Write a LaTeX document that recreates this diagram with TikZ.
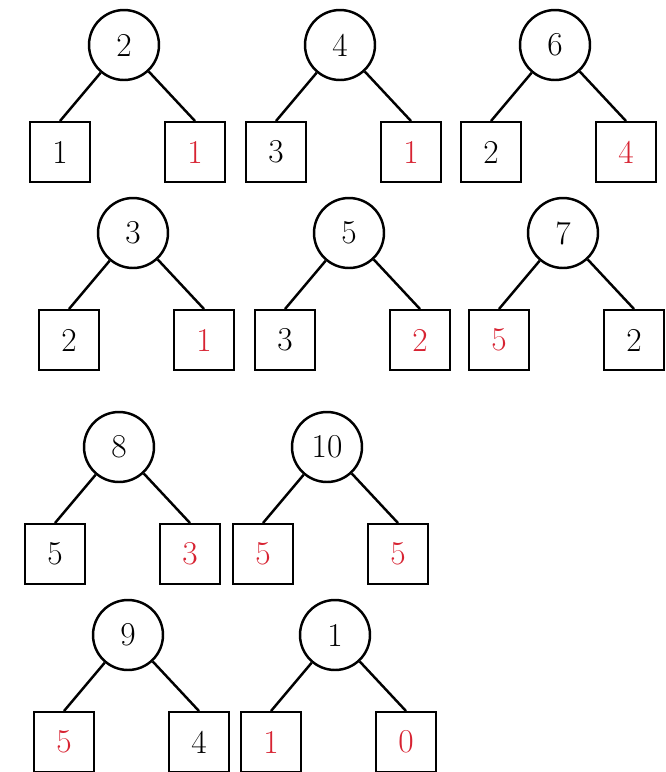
\documentclass[tikz,border=0pt]{standalone}
\usepackage{tikz}
\definecolor{numred}{RGB}{215,35,50}

\begin{document}
\begin{tikzpicture}[
    x=0.02cm, y=-0.02cm,
    rnode/.style={draw, circle, line width=1.4pt, minimum size=1.4cm, inner sep=0pt, font=\fontsize{19}{22}\selectfont},
    bnode/.style={draw, rectangle, line width=1.4pt, minimum size=1.19cm, inner sep=0pt, font=\fontsize{19}{22}\selectfont},
    tline/.style={line width=1.4pt}
]
\useasboundingbox (0,0) rectangle (666,772);
% --- Each tree: root circle, two boxes below, two edges ---
\foreach \t/\x/\y/\r/\a/\ca/\b/\cb in {
    1/124/45/2/1/black/1/numred,
    2/340/45/4/3/black/1/numred,
    3/555/45/6/2/black/4/numred,
    4/133/233/3/2/black/1/numred,
    5/349/233/5/3/black/2/numred,
    6/563/233/7/5/numred/2/black,
    7/119/447/8/5/black/3/numred,
    8/327/447/10/5/numred/5/numred,
    9/128/635/9/5/numred/4/black,
    10/335/635/1/1/numred/0/numred} {
    \node[rnode] (root\t) at (\x, \y) {\r};
    \node[bnode, text=\ca] (lft\t) at (\x-64, \y+107) {\a};
    \node[bnode, text=\cb] (rgt\t) at (\x+71, \y+107) {\b};
    \draw[tline] (root\t) -- (lft\t.north);
    \draw[tline] (root\t) -- (rgt\t.north);
}
\end{tikzpicture}
\end{document}
